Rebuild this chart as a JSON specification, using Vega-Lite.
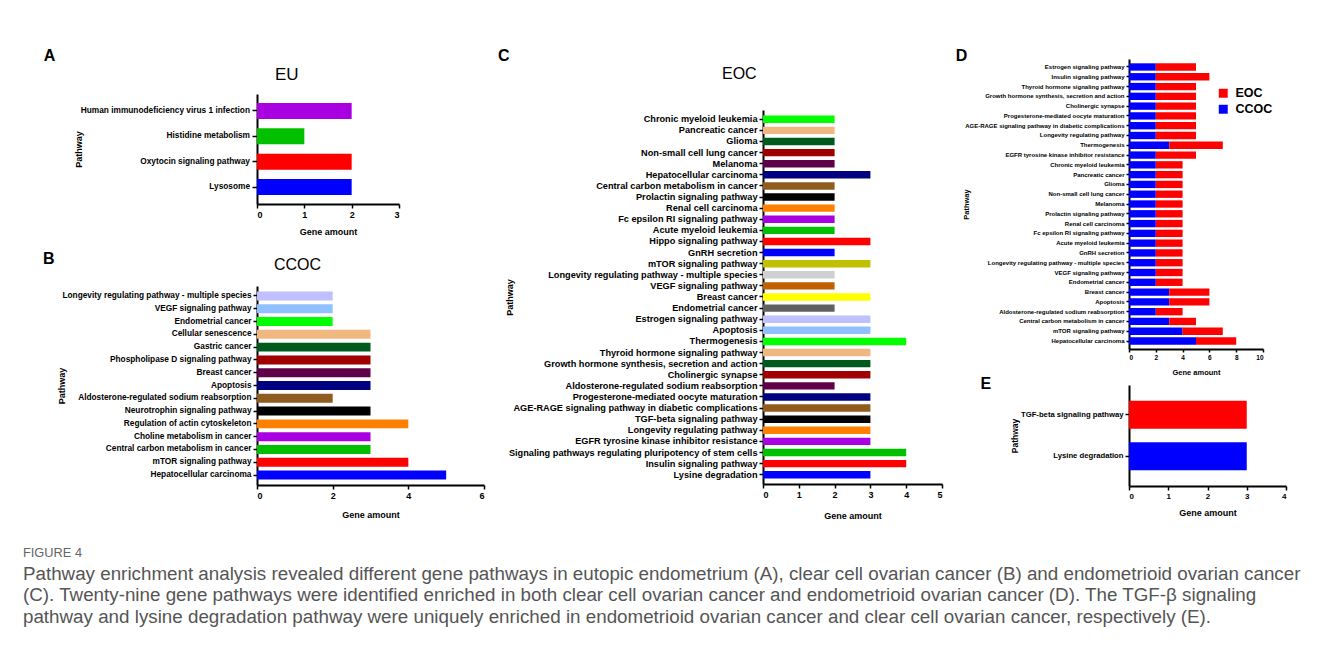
{
  "$schema": "https://vega.github.io/schema/vega-lite/v6.json",
  "padding": {"left": 22, "top": 47, "right": 5, "bottom": 5},
  "title": {
    "text": "FIGURE 4",
    "orient": "bottom",
    "anchor": "start",
    "frame": "bounds",
    "dx": -20,
    "offset": 27,
    "font": "Liberation Sans",
    "fontSize": 12.8,
    "fontWeight": "normal",
    "color": "#666666",
    "subtitle": [
      "Pathway enrichment analysis revealed different gene pathways in eutopic endometrium (A), clear cell ovarian cancer (B) and endometrioid ovarian cancer",
      "(C). Twenty-nine gene pathways  were identified enriched in both clear cell ovarian cancer and endometrioid ovarian cancer (D). The TGF-β signaling",
      "pathway and lysine degradation pathway were uniquely enriched in endometrioid ovarian cancer and clear cell ovarian cancer, respectively (E)."
    ],
    "subtitleFont": "Liberation Sans",
    "subtitleFontSize": 18.8,
    "subtitleColor": "#555555",
    "subtitleLineHeight": 21.5,
    "subtitlePadding": 5
  },
  "spacing": 12,
  "resolve": {"scale": {"color": "independent"}, "legend": {"color": "independent"}},
  "hconcat": [
    {
      "spacing": 0,
      "resolve": {"scale": {"color": "independent"}, "legend": {"color": "independent"}},
      "vconcat": [
        {"width": 1, "height": 1, "data": {"values": []}, "mark": "point", "encoding": {}},
        {
          "spacing": 15,
          "resolve": {"scale": {"color": "independent"}, "legend": {"color": "independent"}},
          "vconcat": [
            {
              "title": {"text": "A", "anchor": "start", "frame": "bounds", "dx": -31, "offset": 2, "fontSize": 16, "fontWeight": "bold", "color": "black"},
              "vconcat": [
                {
                  "width": 142,
                  "height": 110,
                  "title": {"text": "EU", "anchor": "start", "frame": "group", "dx": 18, "offset": 10, "fontSize": 17, "fontWeight": "normal", "color": "black"},
                  "data": {"values": [
                    {"pathway": "Human immunodeficiency virus 1 infection", "genes": 2},
                    {"pathway": "Histidine metabolism", "genes": 1},
                    {"pathway": "Oxytocin signaling pathway", "genes": 2},
                    {"pathway": "Lysosome", "genes": 2}
                  ]},
                  "mark": {"type": "bar"},
                  "encoding": {
                    "y": {"field": "pathway", "type": "nominal", "sort": null, "title": "Pathway",
                      "scale": {"paddingInner": 0.37, "paddingOuter": 0.35},
                      "axis": {"labelFontSize": 8.3, "tickSize": 5, "labelPadding": 2.5, "titlePadding": -3.5}},
                    "x": {"field": "genes", "type": "quantitative", "title": "Gene amount",
                      "scale": {"domain": [0, 3]},
                      "axis": {"values": [0, 1, 2, 3], "titlePadding": 8}},
                    "color": {"field": "pathway", "type": "nominal", "legend": null,
                      "scale": {
                        "domain": ["Human immunodeficiency virus 1 infection", "Histidine metabolism", "Oxytocin signaling pathway", "Lysosome"],
                        "range": ["#a800e0", "#00c000", "#ff0000", "#0000ff"]}}
                  }
                }
              ]
            },
            {
              "title": {"text": "B", "anchor": "start", "frame": "bounds", "dx": -14.5, "offset": -10, "fontSize": 16, "fontWeight": "bold", "color": "black"},
              "vconcat": [
                {
                  "width": 227,
                  "height": 199,
                  "title": {"text": "CCOC", "anchor": "start", "frame": "group", "dx": 17, "offset": 13, "fontSize": 16, "fontWeight": "normal", "color": "black"},
                  "data": {"values": [
                    {"pathway": "Longevity regulating pathway - multiple species", "genes": 2},
                    {"pathway": "VEGF signaling pathway", "genes": 2},
                    {"pathway": "Endometrial cancer", "genes": 2},
                    {"pathway": "Cellular senescence", "genes": 3},
                    {"pathway": "Gastric cancer", "genes": 3},
                    {"pathway": "Phospholipase D signaling pathway", "genes": 3},
                    {"pathway": "Breast cancer", "genes": 3},
                    {"pathway": "Apoptosis", "genes": 3},
                    {"pathway": "Aldosterone-regulated sodium reabsorption", "genes": 2},
                    {"pathway": "Neurotrophin signaling pathway", "genes": 3},
                    {"pathway": "Regulation of actin cytoskeleton", "genes": 4},
                    {"pathway": "Choline metabolism in cancer", "genes": 3},
                    {"pathway": "Central carbon metabolism in cancer", "genes": 3},
                    {"pathway": "mTOR signaling pathway", "genes": 4},
                    {"pathway": "Hepatocellular carcinoma", "genes": 5}
                  ]},
                  "mark": {"type": "bar"},
                  "encoding": {
                    "y": {"field": "pathway", "type": "nominal", "sort": null, "title": "Pathway",
                      "scale": {"paddingInner": 0.3, "paddingOuter": 0.43},
                      "axis": {"labelFontSize": 8.3, "titlePadding": -4.5}},
                    "x": {"field": "genes", "type": "quantitative", "title": "Gene amount",
                      "scale": {"domain": [0, 6]},
                      "axis": {"values": [0, 2, 4, 6], "titlePadding": 10}},
                    "color": {"field": "pathway", "type": "nominal", "legend": null,
                      "scale": {
                        "domain": ["Hepatocellular carcinoma", "mTOR signaling pathway", "Central carbon metabolism in cancer", "Choline metabolism in cancer", "Regulation of actin cytoskeleton", "Neurotrophin signaling pathway", "Aldosterone-regulated sodium reabsorption", "Apoptosis", "Breast cancer", "Phospholipase D signaling pathway", "Gastric cancer", "Cellular senescence", "Endometrial cancer", "VEGF signaling pathway", "Longevity regulating pathway - multiple species"],
                        "range": ["#0000ff", "#ff0000", "#00c000", "#a800e0", "#ff8000", "#000000", "#8f5b1e", "#000080", "#600048", "#a00000", "#005a1e", "#f0b880", "#00ff00", "#90c0ff", "#c0c0ff"]}}
                  }
                }
              ]
            }
          ]
        }
      ]
    },
    {
      "spacing": 0,
      "resolve": {"scale": {"color": "independent"}, "legend": {"color": "independent"}},
      "vconcat": [
        {"width": 1, "height": 1, "data": {"values": []}, "mark": "point", "encoding": {}},
        {
          "title": {"text": "C", "anchor": "start", "frame": "bounds", "dx": -8, "offset": 2, "fontSize": 16, "fontWeight": "bold", "color": "black"},
          "vconcat": [
            {
              "width": 179,
              "height": 374,
              "title": {"text": "EOC", "anchor": "start", "frame": "group", "dx": -41, "offset": 28, "fontSize": 16, "fontWeight": "normal", "color": "black"},
              "data": {"values": [
                {"pathway": "Chronic myeloid leukemia", "genes": 2},
                {"pathway": "Pancreatic cancer", "genes": 2},
                {"pathway": "Glioma", "genes": 2},
                {"pathway": "Non-small cell lung cancer", "genes": 2},
                {"pathway": "Melanoma", "genes": 2},
                {"pathway": "Hepatocellular carcinoma", "genes": 3},
                {"pathway": "Central carbon metabolism in cancer", "genes": 2},
                {"pathway": "Prolactin signaling pathway", "genes": 2},
                {"pathway": "Renal cell carcinoma", "genes": 2},
                {"pathway": "Fc epsilon RI signaling pathway", "genes": 2},
                {"pathway": "Acute myeloid leukemia", "genes": 2},
                {"pathway": "Hippo signaling pathway", "genes": 3},
                {"pathway": "GnRH secretion", "genes": 2},
                {"pathway": "mTOR signaling pathway", "genes": 3},
                {"pathway": "Longevity regulating pathway - multiple species", "genes": 2},
                {"pathway": "VEGF signaling pathway", "genes": 2},
                {"pathway": "Breast cancer", "genes": 3},
                {"pathway": "Endometrial cancer", "genes": 2},
                {"pathway": "Estrogen signaling pathway", "genes": 3},
                {"pathway": "Apoptosis", "genes": 3},
                {"pathway": "Thermogenesis", "genes": 4},
                {"pathway": "Thyroid hormone signaling pathway", "genes": 3},
                {"pathway": "Growth hormone synthesis, secretion and action", "genes": 3},
                {"pathway": "Cholinergic synapse", "genes": 3},
                {"pathway": "Aldosterone-regulated sodium reabsorption", "genes": 2},
                {"pathway": "Progesterone-mediated oocyte maturation", "genes": 3},
                {"pathway": "AGE-RAGE signaling pathway in diabetic complications", "genes": 3},
                {"pathway": "TGF-beta signaling pathway", "genes": 3},
                {"pathway": "Longevity regulating pathway", "genes": 3},
                {"pathway": "EGFR tyrosine kinase inhibitor resistance", "genes": 3},
                {"pathway": "Signaling pathways regulating pluripotency of stem cells", "genes": 4},
                {"pathway": "Insulin signaling pathway", "genes": 4},
                {"pathway": "Lysine degradation", "genes": 3}
              ]},
              "mark": {"type": "bar"},
              "encoding": {
                "y": {"field": "pathway", "type": "nominal", "sort": null, "title": "Pathway",
                  "scale": {"paddingInner": 0.33, "paddingOuter": 0.5},
                  "axis": {"labelFontSize": 9.2, "titlePadding": -6.5}},
                "x": {"field": "genes", "type": "quantitative", "title": "Gene amount",
                  "scale": {"domain": [0, 5]},
                  "axis": {"values": [0, 1, 2, 3, 4, 5], "titlePadding": 12}},
                "color": {"field": "pathway", "type": "nominal", "legend": null,
                  "scale": {
                    "domain": ["Lysine degradation", "Insulin signaling pathway", "Signaling pathways regulating pluripotency of stem cells", "EGFR tyrosine kinase inhibitor resistance", "Longevity regulating pathway", "TGF-beta signaling pathway", "AGE-RAGE signaling pathway in diabetic complications", "Progesterone-mediated oocyte maturation", "Aldosterone-regulated sodium reabsorption", "Cholinergic synapse", "Growth hormone synthesis, secretion and action", "Thyroid hormone signaling pathway", "Thermogenesis", "Apoptosis", "Estrogen signaling pathway", "Endometrial cancer", "Breast cancer", "VEGF signaling pathway", "Longevity regulating pathway - multiple species", "mTOR signaling pathway", "GnRH secretion", "Hippo signaling pathway", "Acute myeloid leukemia", "Fc epsilon RI signaling pathway", "Renal cell carcinoma", "Prolactin signaling pathway", "Central carbon metabolism in cancer", "Hepatocellular carcinoma", "Melanoma", "Non-small cell lung cancer", "Glioma", "Pancreatic cancer", "Chronic myeloid leukemia"],
                    "range": ["#0000ff", "#ff0000", "#00c000", "#a800e0", "#ff8000", "#000000", "#8f5b1e", "#000080", "#600048", "#a00000", "#005a1e", "#f0b880", "#00ff00", "#90c0ff", "#c0c0ff", "#606060", "#ffff00", "#c06000", "#d0d0d0", "#c0c000", "#0000ff", "#ff0000", "#00c000", "#a800e0", "#ff8000", "#000000", "#8f5b1e", "#000080", "#600048", "#a00000", "#005a1e", "#f0b880", "#00ff00"]}}
              }
            }
          ]
        }
      ]
    },
    {
      "spacing": 0,
      "resolve": {"scale": {"color": "independent"}, "legend": {"color": "independent"}},
      "vconcat": [
        {"width": 1, "height": 1, "data": {"values": []}, "mark": "point", "encoding": {}},
        {
          "title": {"text": "D", "anchor": "start", "frame": "bounds", "dx": -7, "offset": -5, "fontSize": 16, "fontWeight": "bold", "color": "black"},
          "vconcat": [
            {
              "width": 134,
              "height": 290,
              "data": {"values": [
                {"pathway": "Estrogen signaling pathway", "group": "CCOC", "genes": 2},
                {"pathway": "Estrogen signaling pathway", "group": "EOC", "genes": 3},
                {"pathway": "Insulin signaling pathway", "group": "CCOC", "genes": 2},
                {"pathway": "Insulin signaling pathway", "group": "EOC", "genes": 4},
                {"pathway": "Thyroid hormone signaling pathway", "group": "CCOC", "genes": 2},
                {"pathway": "Thyroid hormone signaling pathway", "group": "EOC", "genes": 3},
                {"pathway": "Growth hormone synthesis, secretion and action", "group": "CCOC", "genes": 2},
                {"pathway": "Growth hormone synthesis, secretion and action", "group": "EOC", "genes": 3},
                {"pathway": "Cholinergic synapse", "group": "CCOC", "genes": 2},
                {"pathway": "Cholinergic synapse", "group": "EOC", "genes": 3},
                {"pathway": "Progesterone-mediated oocyte maturation", "group": "CCOC", "genes": 2},
                {"pathway": "Progesterone-mediated oocyte maturation", "group": "EOC", "genes": 3},
                {"pathway": "AGE-RAGE signaling pathway in diabetic complications", "group": "CCOC", "genes": 2},
                {"pathway": "AGE-RAGE signaling pathway in diabetic complications", "group": "EOC", "genes": 3},
                {"pathway": "Longevity regulating pathway", "group": "CCOC", "genes": 2},
                {"pathway": "Longevity regulating pathway", "group": "EOC", "genes": 3},
                {"pathway": "Thermogenesis", "group": "CCOC", "genes": 3},
                {"pathway": "Thermogenesis", "group": "EOC", "genes": 4},
                {"pathway": "EGFR tyrosine kinase inhibitor resistance", "group": "CCOC", "genes": 2},
                {"pathway": "EGFR tyrosine kinase inhibitor resistance", "group": "EOC", "genes": 3},
                {"pathway": "Chronic myeloid leukemia", "group": "CCOC", "genes": 2},
                {"pathway": "Chronic myeloid leukemia", "group": "EOC", "genes": 2},
                {"pathway": "Pancreatic cancer", "group": "CCOC", "genes": 2},
                {"pathway": "Pancreatic cancer", "group": "EOC", "genes": 2},
                {"pathway": "Glioma", "group": "CCOC", "genes": 2},
                {"pathway": "Glioma", "group": "EOC", "genes": 2},
                {"pathway": "Non-small cell lung cancer", "group": "CCOC", "genes": 2},
                {"pathway": "Non-small cell lung cancer", "group": "EOC", "genes": 2},
                {"pathway": "Melanoma", "group": "CCOC", "genes": 2},
                {"pathway": "Melanoma", "group": "EOC", "genes": 2},
                {"pathway": "Prolactin signaling pathway", "group": "CCOC", "genes": 2},
                {"pathway": "Prolactin signaling pathway", "group": "EOC", "genes": 2},
                {"pathway": "Renal cell carcinoma", "group": "CCOC", "genes": 2},
                {"pathway": "Renal cell carcinoma", "group": "EOC", "genes": 2},
                {"pathway": "Fc epsilon RI signaling pathway", "group": "CCOC", "genes": 2},
                {"pathway": "Fc epsilon RI signaling pathway", "group": "EOC", "genes": 2},
                {"pathway": "Acute myeloid leukemia", "group": "CCOC", "genes": 2},
                {"pathway": "Acute myeloid leukemia", "group": "EOC", "genes": 2},
                {"pathway": "GnRH secretion", "group": "CCOC", "genes": 2},
                {"pathway": "GnRH secretion", "group": "EOC", "genes": 2},
                {"pathway": "Longevity regulating pathway - multiple species", "group": "CCOC", "genes": 2},
                {"pathway": "Longevity regulating pathway - multiple species", "group": "EOC", "genes": 2},
                {"pathway": "VEGF signaling pathway", "group": "CCOC", "genes": 2},
                {"pathway": "VEGF signaling pathway", "group": "EOC", "genes": 2},
                {"pathway": "Endometrial cancer", "group": "CCOC", "genes": 2},
                {"pathway": "Endometrial cancer", "group": "EOC", "genes": 2},
                {"pathway": "Breast cancer", "group": "CCOC", "genes": 3},
                {"pathway": "Breast cancer", "group": "EOC", "genes": 3},
                {"pathway": "Apoptosis", "group": "CCOC", "genes": 3},
                {"pathway": "Apoptosis", "group": "EOC", "genes": 3},
                {"pathway": "Aldosterone-regulated sodium reabsorption", "group": "CCOC", "genes": 2},
                {"pathway": "Aldosterone-regulated sodium reabsorption", "group": "EOC", "genes": 2},
                {"pathway": "Central carbon metabolism in cancer", "group": "CCOC", "genes": 3},
                {"pathway": "Central carbon metabolism in cancer", "group": "EOC", "genes": 2},
                {"pathway": "mTOR signaling pathway", "group": "CCOC", "genes": 4},
                {"pathway": "mTOR signaling pathway", "group": "EOC", "genes": 3},
                {"pathway": "Hepatocellular carcinoma", "group": "CCOC", "genes": 5},
                {"pathway": "Hepatocellular carcinoma", "group": "EOC", "genes": 3}
              ]},
              "mark": {"type": "bar"},
              "encoding": {
                "y": {"field": "pathway", "type": "nominal", "sort": null, "title": "Pathway",
                  "scale": {"paddingInner": 0.25, "paddingOuter": 0.44},
                  "axis": {"labelFontSize": 6, "titleFontSize": 7.5, "titlePadding": -6, "tickSize": 3}},
                "x": {"field": "genes", "type": "quantitative", "title": "Gene amount", "stack": "zero",
                  "scale": {"domain": [0, 10]},
                  "axis": {"values": [0, 2, 4, 6, 8, 10], "labelFontSize": 6.5, "titleFontSize": 7.5, "titlePadding": 8, "tickSize": 3}},
                "color": {"field": "group", "type": "nominal",
                  "scale": {"domain": ["EOC", "CCOC"], "range": ["#ff0000", "#0000ff"]},
                  "legend": {"title": null, "orient": "none", "legendX": 88, "legendY": 28, "labelFontSize": 12.5, "labelFontWeight": "bold", "labelColor": "black", "symbolType": "square", "symbolSize": 80, "symbolStrokeWidth": 0, "rowPadding": 3, "labelOffset": 6}}
              }
            }
          ]
        },
        {
          "title": {"text": "E", "anchor": "start", "frame": "bounds", "dx": -30, "offset": -7, "fontSize": 16, "fontWeight": "bold", "color": "black"},
          "vconcat": [
            {
              "width": 157,
              "height": 101,
              "data": {"values": [
                {"pathway": "TGF-beta signaling pathway", "genes": 3},
                {"pathway": "Lysine degradation", "genes": 3}
              ]},
              "mark": {"type": "bar"},
              "encoding": {
                "y": {"field": "pathway", "type": "nominal", "sort": null, "title": "Pathway",
                  "scale": {"paddingInner": 0.33, "paddingOuter": 0.38},
                  "axis": {"labelFontSize": 7.7, "titleFontSize": 8.5, "titlePadding": 1}},
                "x": {"field": "genes", "type": "quantitative", "title": "Gene amount",
                  "scale": {"domain": [0, 4]},
                  "axis": {"values": [0, 1, 2, 3, 4], "labelFontSize": 8, "titleFontSize": 9, "titlePadding": 8}},
                "color": {"field": "pathway", "type": "nominal", "legend": null,
                  "scale": {"domain": ["TGF-beta signaling pathway", "Lysine degradation"], "range": ["#ff0000", "#0000ff"]}}
              }
            }
          ]
        }
      ]
    }
  ],
  "config": {
    "font": "Liberation Sans",
    "view": {"stroke": null},
    "title": {"font": "Liberation Sans"},
    "axis": {
      "grid": false,
      "domainColor": "black",
      "domainWidth": 2,
      "tickColor": "black",
      "tickWidth": 1.5,
      "tickSize": 4,
      "labelColor": "black",
      "labelFont": "Liberation Sans",
      "labelFontWeight": "bold",
      "labelFontSize": 9,
      "labelPadding": 2,
      "labelLimit": 0,
      "maxExtent": 400,
      "titleColor": "black",
      "titleFont": "Liberation Sans",
      "titleFontWeight": "bold",
      "titleFontSize": 9
    },
    "legend": {"labelFont": "Liberation Sans"}
  }
}
